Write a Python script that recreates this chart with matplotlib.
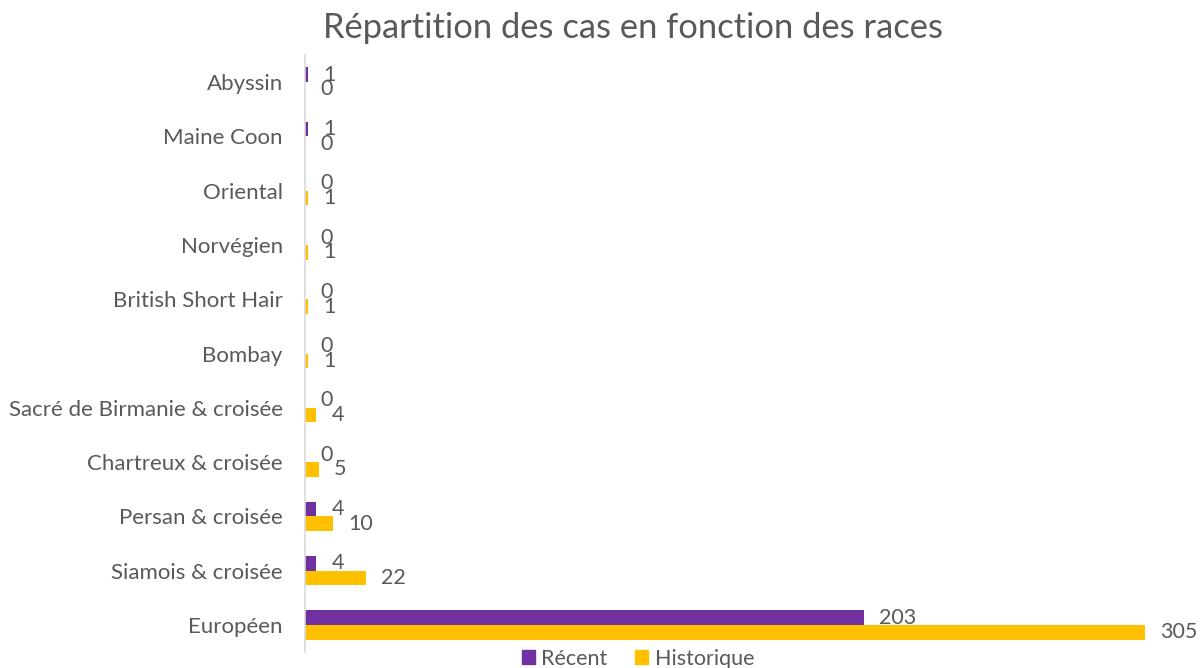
import matplotlib.pyplot as plt
import numpy as np
from matplotlib.patches import Patch

# donnees
races = ["Abyssin", "Maine Coon", "Oriental", "Norvégien", "British Short Hair", "Bombay",
         "Sacré de Birmanie & croisée", "Chartreux & croisée", "Persan & croisée",
         "Siamois & croisée", "Européen"]
recent = [1, 1, 0, 0, 0, 0, 0, 0, 4, 4, 203]
historique = [0, 0, 1, 1, 1, 1, 4, 5, 10, 22, 305]

VIOLET = "#7030A0"
JAUNE = "#FFC000"
GRIS = "#595959"

plt.rcParams["font.family"] = ["Lato", "DejaVu Sans"]

fig = plt.figure(figsize=(12.03, 6.68), dpi=100)
ax = fig.add_axes([305 / 1203, 1 - 652 / 668, 840 / 1203, 597 / 668])

y = np.arange(len(races))
h = 0.27
ax.barh(y - h / 2, recent, height=h, color=VIOLET, linewidth=0)
ax.barh(y + h / 2, historique, height=h, color=JAUNE, linewidth=0)

# etiquettes de valeurs
for i, (r, hi) in enumerate(zip(recent, historique)):
    ax.annotate(str(r), (r, i - h / 2), xytext=(11, 0), textcoords="offset points",
                ha="left", va="center", fontsize=15.5, color=GRIS, annotation_clip=False)
    ax.annotate(str(hi), (hi, i + h / 2), xytext=(11, 0), textcoords="offset points",
                ha="left", va="center", fontsize=15.5, color=GRIS, annotation_clip=False)

ax.set_xlim(0, 305)
ax.set_ylim(len(races) - 0.5, -0.5)
ax.set_yticks(y)
ax.set_yticklabels(races, fontsize=16, color=GRIS)
ax.tick_params(axis="y", length=0, pad=16)
ax.set_xticks([])
for s in ["top", "right", "bottom"]:
    ax.spines[s].set_visible(False)
ax.spines["left"].set_color("#D9D9D9")
ax.spines["left"].set_linewidth(1.2)

fig.text(633 / 1203, 1 - 28 / 668, "Répartition des cas en fonction des races",
         ha="center", va="center", fontsize=24.8, color=GRIS)

handles = [Patch(color=VIOLET, label="Récent"), Patch(color=JAUNE, label="Historique")]
fig.legend(handles=handles, loc="lower center", bbox_to_anchor=(638 / 1203, -0.03), ncol=2,
           frameon=False, fontsize=15.5, labelcolor=GRIS, handlelength=0.6, handleheight=0.6,
           handletextpad=0.3, columnspacing=1.3)

fig.savefig("out.png", dpi=100)
